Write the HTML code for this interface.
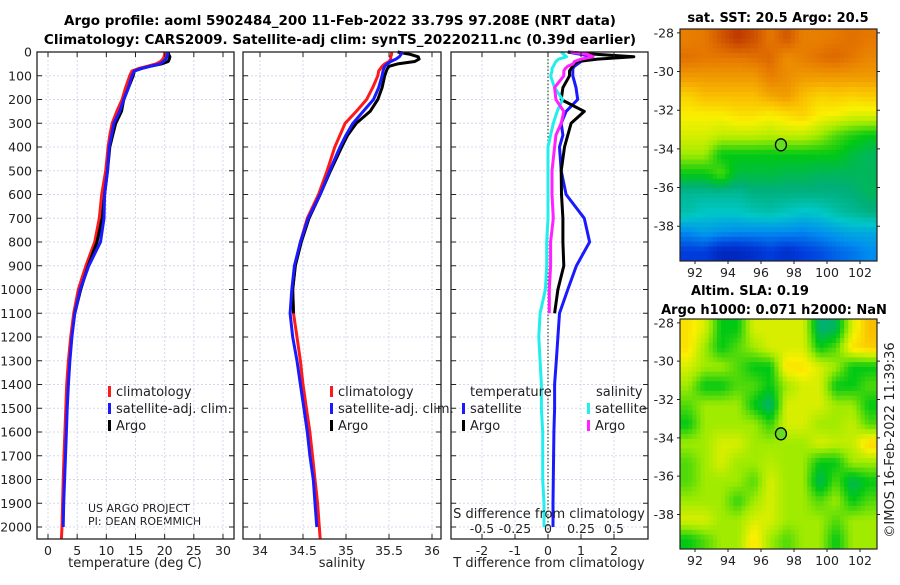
<!DOCTYPE html>
<html><head><meta charset="utf-8"><style>
html,body{margin:0;padding:0;background:#fff;}
svg text{font-family:"DejaVu Sans","Liberation Sans",sans-serif;fill:#222;}
.b{font-weight:bold;fill:#000;}
</style></head><body>
<svg id="s" width="900" height="580" viewBox="0 0 900 580" xmlns="http://www.w3.org/2000/svg">
<text class="b" x="340" y="25" font-size="13.5" text-anchor="middle">Argo profile: aoml 5902484_200 11-Feb-2022 33.79S 97.208E (NRT data)</text>
<text class="b" x="340" y="44" font-size="13.5" text-anchor="middle">Climatology: CARS2009. Satellite-adj clim: synTS_20220211.nc (0.39d earlier)</text>
<text class="b" x="778" y="22" font-size="13" text-anchor="middle">sat. SST: 20.5 Argo: 20.5</text>
<text class="b" x="750" y="295" font-size="13" text-anchor="middle">Altim. SLA: 0.19</text>
<text class="b" x="774" y="314" font-size="13" text-anchor="middle">Argo h1000: 0.071 h2000: NaN</text>
<text x="894" y="440" font-size="13" text-anchor="middle" transform="rotate(-90 894 440)">©IMOS 16-Feb-2022 11:39:36</text>
<text x="135" y="567" font-size="13" text-anchor="middle">temperature (deg C)</text>
<text x="342" y="567" font-size="13" text-anchor="middle">salinity</text>
<text x="549" y="567" font-size="13" text-anchor="middle">T difference from climatology</text>
<text x="88" y="512" font-size="11">US ARGO PROJECT</text>
<text x="88" y="525" font-size="11">PI: DEAN ROEMMICH</text>
</svg>
<script>
const depths=[0,10,20,30,40,50,60,70,80,100,150,200,250,300,350,400,500,600,700,800,900,1000,1100,1200,1300,1400,1500,1600,1700,1800,1900,2000];
const argoDepths=[0,10,20,30,40,50,60,70,80,100,150,200,250,300,350,400,500,600,700,800,900,1000,1100];
const climT=[20.0,20.0,19.9,19.7,19.3,18.5,17,15.5,14.4,14.0,13.3,12.7,11.8,11.0,10.6,10.3,9.9,9.2,8.8,8.0,6.5,5.2,4.4,3.9,3.5,3.2,3.05,2.9,2.75,2.6,2.5,2.4];
const satT=[20.5,20.5,20.4,20.2,19.8,19.2,17.5,16,14.8,14.4,13.8,13.0,12.3,11.3,10.9,10.5,10.2,9.7,9.6,9.0,7.0,5.5,4.6,4.1,3.75,3.5,3.3,3.15,3.0,2.85,2.7,2.6];
const argoT=[20.6,20.7,20.9,20.8,20.6,19.5,17.5,16,14.8,14.6,13.8,13.0,12.6,11.6,11.1,10.6,10.2,9.7,9.3,8.4,6.9,5.6,4.6];
const climS=[35.53,35.53,35.52,35.52,35.5,35.45,35.42,35.4,35.38,35.37,35.31,35.24,35.12,34.99,34.93,34.87,34.78,34.68,34.55,34.47,34.41,34.38,34.39,34.43,34.47,34.5,34.54,34.58,34.61,34.64,34.67,34.69];
const satS=[35.66,35.64,35.62,35.58,35.52,35.48,35.45,35.44,35.43,35.42,35.38,35.32,35.2,35.08,35.0,34.93,34.81,34.7,34.56,34.47,34.4,34.37,34.35,34.38,34.43,34.47,34.51,34.55,34.58,34.62,34.64,34.66];
const argoS=[35.6,35.75,35.84,35.85,35.8,35.6,35.5,35.48,35.47,35.45,35.42,35.37,35.28,35.12,35.02,34.95,34.82,34.7,34.57,34.48,34.41,34.38,34.39];
const satTdiff=[0.6,1.0,1.36,1.2,1.0,0.9,0.8,0.75,0.75,0.75,0.85,0.9,0.55,0.4,0.45,0.35,0.4,0.55,1.1,1.26,0.86,0.6,0.35,0.3,0.25,0.2,0.2,0.18,0.17,0.16,0.15,0.15];
const argoTdiff=[0.6,1.5,2.6,1.5,0.9,0.8,0.75,0.7,0.65,0.65,0.45,0.4,1.1,0.7,0.6,0.5,0.4,0.41,0.45,0.45,0.48,0.3,0.2];
const satSdiff=[0.1,0.12,0.14,0.08,0.06,0.05,0.04,0.03,0.03,0.02,0.05,0.11,0.07,0.04,0.02,0.0,0.0,0.0,0.0,-0.01,-0.01,-0.02,-0.06,-0.07,-0.06,-0.05,-0.05,-0.04,-0.04,-0.04,-0.03,-0.03];
const argoSdiff=[0.17,0.3,0.34,0.25,0.2,0.19,0.15,0.13,0.12,0.12,0.05,0.06,0.12,0.1,0.06,0.05,0.03,0.03,0.04,0.02,0.02,0.01,0.01];
const depthTicks=[0,100,200,300,400,500,600,700,800,900,1000,1100,1200,1300,1400,1500,1600,1700,1800,1900,2000];
const tempTicks=[0,5,10,15,20,25,30];
const salTicks=[34,34.5,35,35.5,36];
const salTickLabels=["34","34.5","35","35.5","36"];
const tdiffTicks=[-2,-1,0,1,2];
const sdiffTicks=[-0.5,-0.25,0,0.25,0.5];
const sdiffTickLabels=["-0.5","-0.25","0","0.25","0.5"];
const lonTicks=[92,94,96,98,100,102];
const latTicks=[-28,-30,-32,-34,-36,-38];
const argoLon=97.208, argoLat=-33.79;
const sstGrid=[
[8.4,8.5,8.9,9.3,9,8.5,8.9,8.4,8.4,8.5,8.6,8.5],
[8.6,8.5,8.5,8.5,8.6,8.7,8.2,8.4,8.6,8.7,8.5,8.3],
[8,8,8,8,8,8.4,8.2,8,8,8,8,8],
[7.2,7.5,7.5,7.5,7.5,7.8,8,7.5,7.2,7.3,7.2,7.3],
[6.8,6.8,6.8,7,7,6.8,7,7.2,6.8,6.7,6.5,6.5],
[6.5,6.5,6.3,6.3,6.3,6.2,6.3,6.3,6,5.5,5.2,5],
[6,6,5,5,5,5,5,5,5,5,4.7,4.5],
[5,5,5.5,4.7,4.7,4.7,4.6,4.6,4.5,4.5,4.5,4.5],
[4,4,4,4,4.2,4.2,4.2,4.2,4.2,4.2,4.3,4.5],
[3.8,3.5,3.5,3.5,3.7,3.8,3.6,3.4,3.5,3.8,4,4.2],
[2.5,2.8,2.6,2.5,2.5,2.5,2.5,2.4,2.6,2.8,3,3],
[1.5,1.5,1,1,1.2,1.5,1.2,1.5,1.7,2,2.2,2.5]];
const slaGrid=[
[7,6.5,5,5,6.5,6.5,6.5,6.5,4.3,4.5,6.5,7.5],
[7,6,5,5.5,6,6.5,6.5,6.5,5,5.5,7,7.3],
[6.5,6,6,5.5,5,5,7,7,6.5,6,5,5],
[6,5,5,5.5,5.5,5,6,6.5,6.5,5,5,5.5],
[5.5,6,6,6,5,4.3,6.5,6.5,6.5,6,6,5],
[5,6,6,6,6,5.3,6.5,6.5,6,6,6.3,5.5],
[6,6,6.5,6.5,6,6,6,6,6.5,6.3,6.3,7.2],
[5.5,6,6.5,6,6,6.2,6,6,5,5,6,6],
[5.5,6,6,6,5.5,6.5,6,6,4.5,5.5,4.5,5],
[6,6,6,5.3,6,6.5,6,6,5.5,6,5,5.5],
[6.5,6.5,6,6,6.5,6.5,6,6,6,5.5,6,6],
[5,5.5,6,6,7,6,5.5,6,6,5,6,6]];

const NS="http://www.w3.org/2000/svg", svg=document.getElementById('s');
function mk(tag,attrs,parent){const e=document.createElementNS(NS,tag);for(const k in attrs)e.setAttribute(k,attrs[k]);(parent||svg).appendChild(e);return e;}
const yD=d=>52+d*0.2375;
const PB=539;
const panels=[
 {x0:37,x1:234,name:'temperature-panel'},
 {x0:243,x1:441,name:'salinity-panel'},
 {x0:451,x1:648,name:'difference-panel'}];
const xT=v=>48+v*5.833, xS=v=>260+(v-34)*86, xTd=v=>548+v*33, xSd=v=>548+v*132;
const grid=mk('g',{});


function vgrid(xs,fn){xs.forEach(v=>{const l=mk('line',{x1:fn(v),x2:fn(v),y1:52,y2:PB,stroke:'#d4d8ee','stroke-width':1,'stroke-dasharray':'2,2'},grid);
});}
panels.forEach(p=>{depthTicks.forEach(d=>{const l=mk('line',{x1:p.x0,x2:p.x1,y1:yD(d),y2:yD(d),stroke:'#d4d8ee','stroke-width':1,'stroke-dasharray':'2,2'},grid);
});});
vgrid(tempTicks,xT);vgrid(salTicks,xS);vgrid(tdiffTicks,xTd);
const z=mk('line',{x1:548,x2:548,y1:52,y2:PB,stroke:'#335533','stroke-width':1.2,'stroke-dasharray':'1.5,2'});

function line(xs,ds,fn,col,name){const pts=xs.map((v,i)=>fn(v).toFixed(1)+','+yD(ds[i]).toFixed(1)).join(' ');
const e=mk('polyline',{points:pts,fill:'none',stroke:col,'stroke-width':3,'stroke-linejoin':'round'});
}
line(climT.concat([2.3]),depths.concat([2050]),xT,'#ff1a1a','climatology-temperature-line');
line(argoT,argoDepths,xT,'#000','argo-temperature-line');
line(satT,depths,xT,'#1a1aff','satellite-temperature-line');
line(climS.concat([34.7]),depths.concat([2050]),xS,'#ff1a1a','climatology-salinity-line');
line(argoS,argoDepths,xS,'#000','argo-salinity-line');
line(satS,depths,xS,'#1a1aff','satellite-salinity-line');
line(satTdiff,depths,xTd,'#1a1aff','satellite-temperature-diff-line');
line(argoTdiff,argoDepths,xTd,'#000','argo-temperature-diff-line');
line(satSdiff,depths,xSd,'#22eeee','satellite-salinity-diff-line');
line(argoSdiff,argoDepths,xSd,'#ff22ff','argo-salinity-diff-line');
panels.forEach(p=>{const r=mk('rect',{x:p.x0,y:52,width:p.x1-p.x0,height:PB-52,fill:'none',stroke:'#222','stroke-width':1.3});

depthTicks.forEach(d=>{const t=mk('path',{d:`M${p.x0},${yD(d)}h5M${p.x1},${yD(d)}h-5`,stroke:'#222','stroke-width':1});
});});
depthTicks.forEach(d=>{const t=mk('text',{x:32,y:yD(d)+4.5,'font-size':12.5,'text-anchor':'end'});t.textContent=d;
});
function xlabels(vals,labs,fn,y,fs,name,ticks){vals.forEach((v,i)=>{const t=mk('text',{x:fn(v),y:y,'font-size':fs,'text-anchor':'middle'});t.textContent=labs[i];

if(ticks){const k=mk('path',{d:`M${fn(v)},${PB}v-5M${fn(v)},52v5`,stroke:'#222'});}});}
xlabels(tempTicks,tempTicks.map(String),xT,555,12.5,'temperature-tick-label',true);
xlabels(salTicks,salTickLabels,xS,555,12.5,'salinity-tick-label',true);
xlabels(tdiffTicks,tdiffTicks.map(String),xTd,555,12.5,'t-diff-tick-label',true);
xlabels(sdiffTicks,sdiffTickLabels,xSd,533,12.5,'s-diff-tick-label',false);
const sl=mk('text',{x:549,y:518,'font-size':13,'text-anchor':'middle'});sl.textContent='S difference from climatology';

function leg(x,y,col,txt){const g=mk('g',{});
if(col)mk('rect',{x:x,y:y-10,width:3,height:11,fill:col},g);
const t=mk('text',{x:x+(col?8:0),y:y,'font-size':13},g);t.textContent=txt;}
leg(108,396,'#ff1a1a','climatology');leg(108,413,'#1a1aff','satellite-adj. clim.');leg(108,430,'#000','Argo');
leg(330,396,'#ff1a1a','climatology');leg(330,413,'#1a1aff','satellite-adj. clim.');leg(330,430,'#000','Argo');
leg(470,396,null,'temperature');leg(462,413,'#1a1aff','satellite');leg(462,430,'#000','Argo');
leg(596,396,null,'salinity');leg(587,413,'#22eeee','satellite');leg(587,430,'#ff22ff','Argo');
const stops=[[0,[0,0,130]],[1.5,[0,60,220]],[2.5,[0,140,240]],[3.5,[0,200,200]],[4.3,[0,175,120]],[5,[0,200,20]],[6,[160,235,0]],[6.8,[250,240,0]],[7.5,[250,190,0]],[8.5,[230,120,0]],[9.5,[180,40,0]]];
function cm(v){for(let i=0;i<stops.length-1;i++){const[a,ca]=stops[i],[b,cb]=stops[i+1];if(v<=b){const t=Math.max(0,(v-a)/(b-a));return 'rgb('+ca.map((c,j)=>Math.round(c+(cb[j]-c)*t)).join(',')+')';}}return 'rgb(180,40,0)';}
function sample(g,fr,fc){const r=Math.min(Math.max(fr,0),11),c=Math.min(Math.max(fc,0),11);
const r0=Math.floor(r),c0=Math.floor(c),r1=Math.min(r0+1,11),c1=Math.min(c0+1,11),tr=r-r0,tc=c-c0;
return g[r0][c0]*(1-tr)*(1-tc)+g[r0][c1]*(1-tr)*tc+g[r1][c0]*tr*(1-tc)+g[r1][c1]*tr*tc;}
function map(gridv,top,bot,name){const x0=680,x1=877;const lonX=l=>695+(l-92)*16.5;
const g=mk('g',{});
const N=48,cw=(x1-x0)/N,ch=(bot-top)/N;
for(let r=0;r<N;r++)for(let c=0;c<N;c++){const v=sample(gridv,(r+0.5)/4-0.5,(c+0.5)/4-0.5);
const e=mk('rect',{x:(x0+c*cw).toFixed(2),y:(top+r*ch).toFixed(2),width:(cw+0.4).toFixed(2),height:(ch+0.4).toFixed(2),fill:cm(v)},g);

}
mk('rect',{x:x0,y:top,width:x1-x0,height:bot-top,fill:'none',stroke:'#222','stroke-width':1.2},g);
const lat0=top+(bot-top)*(0.2/12);const py=l=>lat0+(-28-l)*(bot-top)/12;
latTicks.forEach(l=>{const t=mk('text',{x:674,y:py(l)+4.5,'font-size':12.5,'text-anchor':'end'},g);t.textContent=l;

mk('path',{d:`M${x0},${py(l)}h-3M${x1},${py(l)}h3`,stroke:'#222'},g);});
lonTicks.forEach(l=>{const t=mk('text',{x:lonX(l),y:bot+16,'font-size':12.5,'text-anchor':'middle'},g);t.textContent=l;

mk('path',{d:`M${lonX(l)},${bot}v3`,stroke:'#222'},g);});
const m=mk('ellipse',{cx:lonX(argoLon),cy:py(argoLat),rx:5.5,ry:6,fill:'#66dd22',stroke:'#000','stroke-width':1.3},g);
}
map(sstGrid,29,261,'sst-map');
map(slaGrid,319,549,'sla-map');
</script>
</body></html>
